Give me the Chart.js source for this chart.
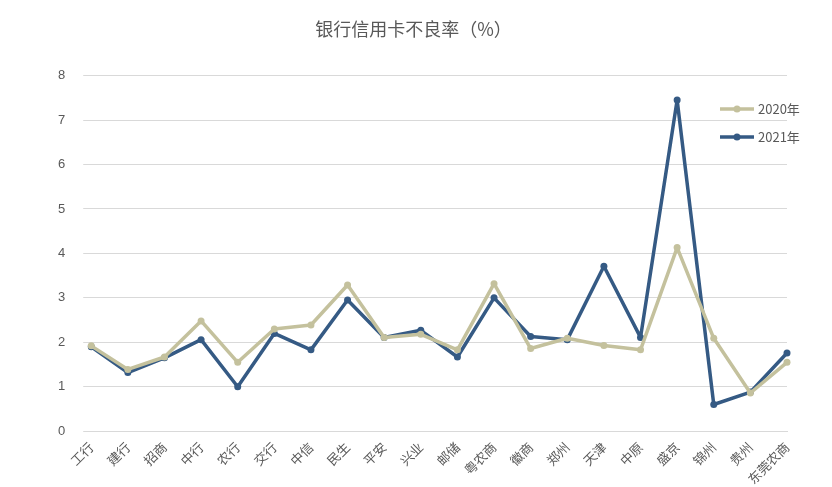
<!DOCTYPE html>
<html>
<head>
<meta charset="utf-8">
<script src="https://cdn.jsdelivr.net/npm/chart.js@4"></script>
<style>
  body { margin: 0; background: #fff; }
  #wrap { width: 832px; height: 487px; }
</style>
</head>
<body>
<div id="wrap"><canvas id="chart"></canvas></div>
<script>
// 银行名称
var banks = ["工行", "建行", "招商", "中行", "农行", "交行", "中信", "民生", "平安", "兴业",
  "邮储", "粤农商", "徽商", "郑州", "天津", "中原", "盛京", "锦州", "贵州", "东莞农商"];
// 2020年 不良率
var rate2020 = [1.92, 1.39, 1.67, 2.48, 1.55, 2.30, 2.39, 3.29, 2.11, 2.18,
  1.83, 3.32, 1.86, 2.09, 1.93, 1.83, 4.13, 2.09, 0.86, 1.55];
// 2021年 不良率
var rate2021 = [1.90, 1.32, 1.65, 2.06, 1.00, 2.20, 1.83, 2.95, 2.11, 2.27,
  1.67, 3.00, 2.13, 2.06, 3.71, 2.11, 7.45, 0.60, 0.88, 1.76];
var yTicks = [0, 1, 2, 3, 4, 5, 6, 7, 8];

var tan = "#c4c19d";
var blue = "#355a84";

// 图例画在绘图区内右上方
var legendPlugin = {
  id: "insideLegend",
  afterDraw: function (chart) {
    var c = chart.ctx;
    var items = chart.data.datasets;
    c.save();
    items.forEach(function (ds, i) {
      var x = 720, y = 109 + i * 28;
      c.strokeStyle = ds.borderColor;
      c.lineWidth = 3.5;
      c.beginPath();
      c.moveTo(x, y);
      c.lineTo(x + 34, y);
      c.stroke();
      c.fillStyle = ds.borderColor;
      c.beginPath();
      c.arc(x + 17, y, 3.5, 0, Math.PI * 2);
      c.fill();
      c.fillStyle = "#595959";
      c.font = "13px 'Noto Sans CJK SC', sans-serif";
      c.textBaseline = "middle";
      c.fillText(ds.label, x + 38, y);
    });
    c.restore();
  }
};

var ctx = document.getElementById("chart").getContext("2d");
new Chart(ctx, {
  type: "line",
  data: {
    labels: banks,
    datasets: [
      { label: "2020年", data: rate2020, borderColor: tan, backgroundColor: tan,
        borderWidth: 3.5, pointRadius: 3.5, pointBorderWidth: 0, borderJoinStyle: "round", tension: 0 },
      { label: "2021年", data: rate2021, borderColor: blue, backgroundColor: blue,
        borderWidth: 3.5, pointRadius: 3.5, pointBorderWidth: 0, borderJoinStyle: "round", tension: 0 }
    ]
  },
  options: {
    responsive: true,
    maintainAspectRatio: false,
    animation: false,
    layout: { padding: { left: 40, right: 45, top: 10, bottom: 0 } },
    plugins: {
      legend: { display: false },
      tooltip: { enabled: false },
      title: {
        display: true,
        text: "银行信用卡不良率（%）",
        color: "#595959",
        font: { size: 18, family: "'Noto Sans CJK SC', sans-serif", weight: "normal" },
        padding: { top: 8, bottom: 36 }
      }
    },
    scales: {
      x: {
        grid: { display: false },
        border: { color: "#d9d9d9" },
        ticks: {
          color: "#595959", maxRotation: 45, minRotation: 45, padding: 0,
          font: { size: 13, family: "'Noto Sans CJK SC', sans-serif" }
        }
      },
      y: {
        min: 0, max: 8,
        afterBuildTicks: function (axis) {
          axis.ticks = yTicks.map(function (v) { return { value: v }; });
        },
        grid: { color: "#d9d9d9" },
        border: { display: false },
        ticks: { color: "#595959", padding: 18, font: { size: 13 } }
      }
    }
  },
  plugins: [legendPlugin]
});
</script>
</body>
</html>
